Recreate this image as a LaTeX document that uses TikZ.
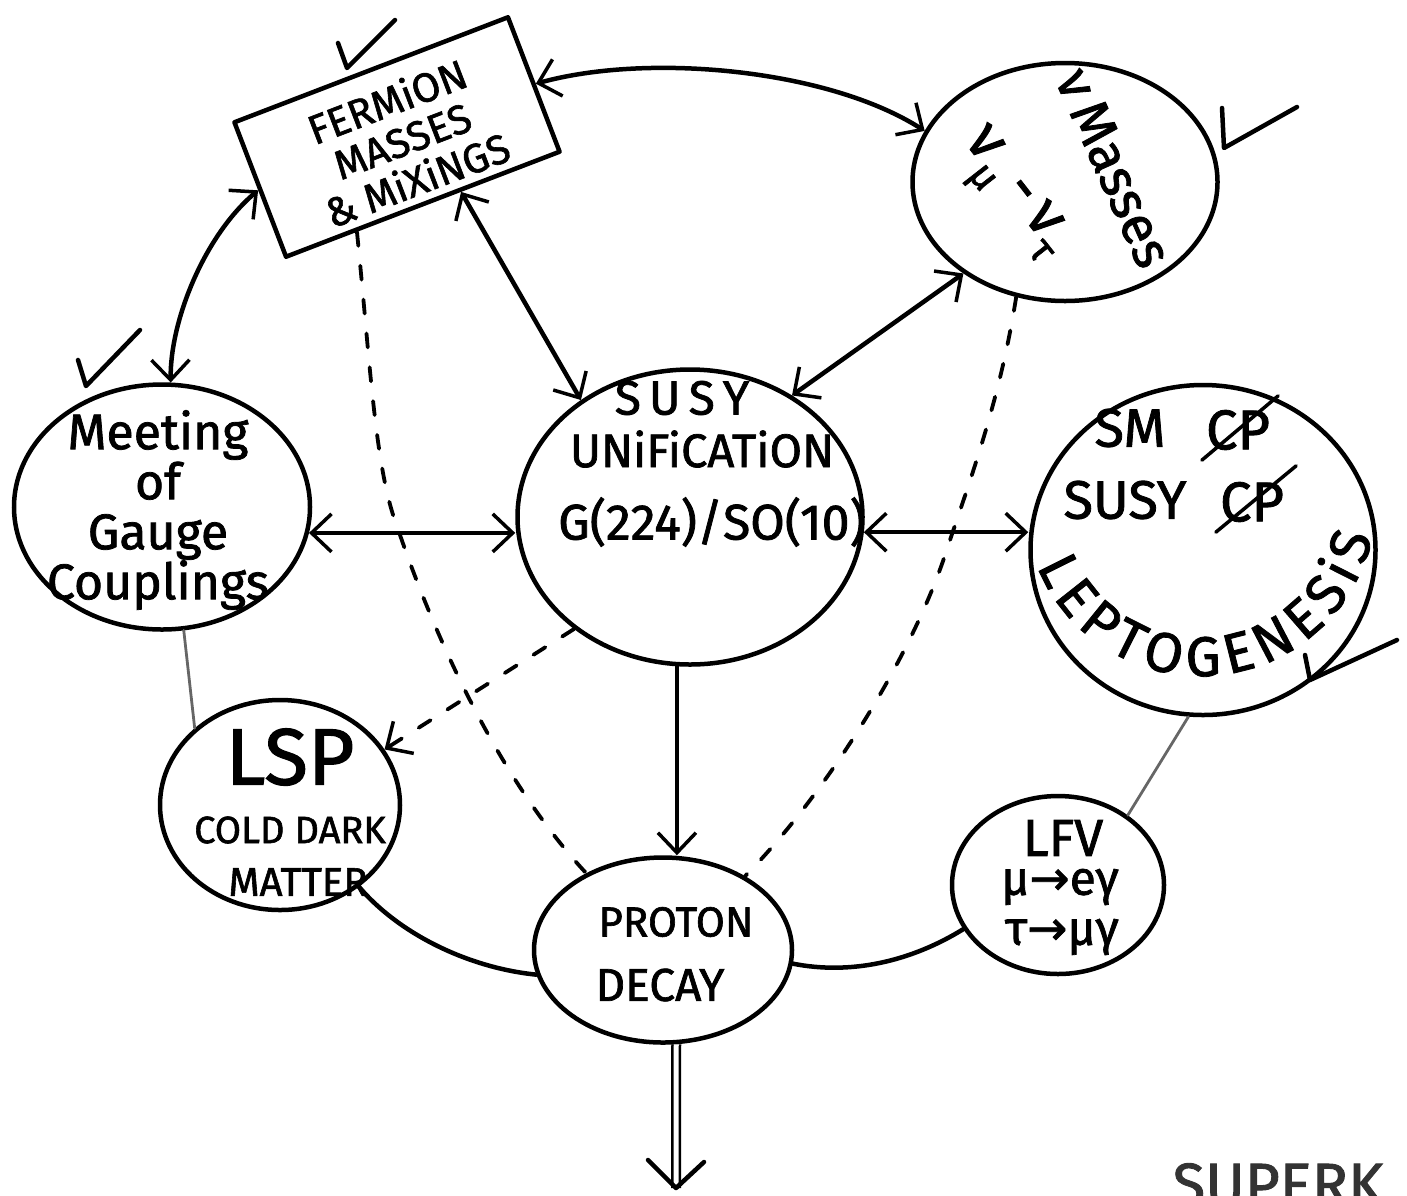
\documentclass[tikz,border=0pt]{standalone}
\usepackage{fontspec}
\setmainfont{Fira Sans}[UprightFeatures={FakeBold=1.5}]
\newfontfamily\symfont{DejaVu Sans}[FakeBold=1.5]
\usetikzlibrary{arrows.meta,shapes.geometric,decorations.text,calc}

% font size helper and lowered flavour index
\newcommand{\setfs}[2]{\fontsize{#1}{#2}\selectfont}
\newcommand{\lowidx}[1]{\raisebox{-0.3em}{\fontsize{40}{40}\selectfont #1}}

\begin{document}
\begin{tikzpicture}[x=1pt,y=-1pt,
  ink/.style={line width=4.5pt, line cap=round, line join=round},
  bubble/.style={ellipse, draw, line width=4.5pt, inner sep=0pt},
  lbl/.style={inner sep=0pt, align=center},
  dashedink/.style={line width=3.8pt, line cap=round, dash pattern=on 14pt off 20pt},
  faint/.style={line width=2.8pt, draw=black!60, line cap=round},
  >={Straight Barb[length=20pt,width=38pt,line width=3.5pt]},
]
\useasboundingbox (0,0) rectangle (1407,1195);
\clip (0,0) rectangle (1407,1195);

% ---- boxes and bubbles
\node[draw, ink, rectangle, rotate=21, minimum width=293pt, minimum height=144pt, inner sep=0pt] (fermion) at (397,137) {};
\node[lbl, rotate=21, font=\setfs{41}{42}] (fermiontxt) at (402,140) {FERMiON\\MASSES\\\& MiXiNGS};

\node[bubble, minimum width=305pt, minimum height=238pt] (nu) at (1065,182) {};
\node[lbl, rotate=-66, font=\setfs{54}{54}] (nutxt) at (1114,168) {ν\,Masses};
\node[lbl, rotate=-52, font=\setfs{60}{60}] (nuflav) at (1010,196) {ν\lowidx{μ}\,-\,ν\lowidx{τ}};

\node[bubble, minimum width=296pt, minimum height=245pt] (meeting) at (162,507) {};
\node[lbl, font=\setfs{50}{50}] (meetingtxt) at (158,510) {Meeting\\of\\Gauge\\Couplings};

\node[bubble, minimum width=345pt, minimum height=295pt] (susy) at (690,517) {};
\node[lbl, font=\setfs{48}{48}] (susyname) at (682,398) {S\,U\,S\,Y};
\node[lbl, font=\setfs{47}{47}] (unif) at (702,449) {UNiFiCATiON};
\node[lbl, font=\setfs{50}{50}] (group) at (712,522) {G(224)/SO(10)};

\node[bubble, minimum width=345pt, minimum height=330pt] (lepto) at (1203,550) {};
\node[lbl, font=\setfs{54}{54}] (sm) at (1130,428) {SM};
\node[lbl, font=\setfs{56}{56}] (smcp) at (1238,430) {CP};
\draw[ink, line width=3.5pt] ($(smcp.south west)+(-4,10)$) -- ($(smcp.north east)+(8,-14)$);
\node[lbl, font=\setfs{54}{54}] (ssy) at (1125,500) {SUSY};
\node[lbl, font=\setfs{56}{56}] (susycp) at (1252,502) {CP};
\draw[ink, line width=3.5pt] ($(susycp.south west)+(-4,10)$) -- ($(susycp.north east)+(12,-16)$);
\path[decorate, decoration={text along path, text={|\setfs{56}{56}|LEPTOGENESiS}, text align=fit to path}]
  ([shift={(-166,16)}]lepto.center) arc[start angle=158, end angle=12, radius=176];

\node[bubble, minimum width=240pt, minimum height=210pt] (lsp) at (280,805) {};
\node[lbl, font=\setfs{80}{80}] (lsptxt) at (290,757) {LSP};
\node[lbl, font=\setfs{38}{38}] (cdm) at (290,830) {COLD DARK};
\node[lbl, font=\setfs{40}{40}] (matter) at (298,882) {MATTER};

\node[bubble, minimum width=258pt, minimum height=185pt] (proton) at (663,950) {};
\node[lbl, font=\setfs{42}{42}] (prot) at (676,922) {PROTON};
\node[lbl, font=\setfs{46}{46}] (decay) at (660,985) {DECAY};

\node[bubble, minimum width=212pt, minimum height=178pt] (lfv) at (1058,885) {};
\node[lbl, font=\setfs{52}{52}] (lfvtxt) at (1063,838) {LFV};
\node[lbl, font=\setfs{48}{48}] (mueg) at (1060,887) {μ{\symfont→}eγ};
\node[lbl, font=\setfs{48}{48}] (taumug) at (1062,937) {τ{\symfont→}μγ};

\node[anchor=north, inner sep=0pt, font=\setfs{60}{60}, text=black!80] (superk) at (1278,1163) {SUPERK};

% ---- connectors
\draw[ink, <->] (fermion.east) .. controls (650,52) and (830,70) .. (nu.160);
\draw[ink, <->] (fermion.west) .. controls (205,235) and (170,320) .. (meeting.86);
\draw[ink, <->] ($(fermion.south)!0.27!(fermion.south east)$) -- (susy.133);
\draw[ink, <->] (nu.222) -- (susy.50);
\draw[ink, <->] (meeting.-10) -- (susy.west |- meeting.-10);
\draw[ink, <->] (susy.-5) -- (lepto.west |- susy.-5);
\draw[ink, ->] (susy.265) -- (susy.265 |- proton.north);
\draw[dashedink, ->] (susy.224) -- (lsp.28);
\draw[dashedink] ($(fermion.south west)!0.26!(fermion.south east)$)
  .. controls (370,360) and (375,470) .. (397,526)
  .. controls (425,610) and (490,770) .. (proton.135);
\draw[dashedink] (nu.247) .. controls (1000,400) and (970,480) .. (947,549)
  .. controls (915,650) and (830,790) .. (proton.42);
\draw[faint] (meeting.280) -- (lsp.138);
\draw[ink] (lsp.-46) .. controls (400,935) and (470,968) .. (proton.191);
\draw[ink] (proton.-6) .. controls (850,975) and (910,962) .. (lfv.205);
\draw[faint] (lfv.45) -- (lepto.265);

% ---- outgoing double arrow below proton decay
\coordinate (sink) at (676,1188);
\draw[line width=2.5pt, double distance=5pt] (proton.-82) -- (sink);
\draw[ink] ($(sink)+(-28,-28)$) -- (sink) -- ($(sink)+(28,-26)$);

% ---- tick marks
\draw[ink] (338,43) -- (347,68) -- (395,20);
\draw[ink] (1222,108) -- (1224,148) -- (1297,107);
\draw[ink] (78,360) -- (86,386) -- (140,330);
\draw[ink] (1305,655) -- (1310,680) -- (1397,640);
\end{tikzpicture}
\end{document}
